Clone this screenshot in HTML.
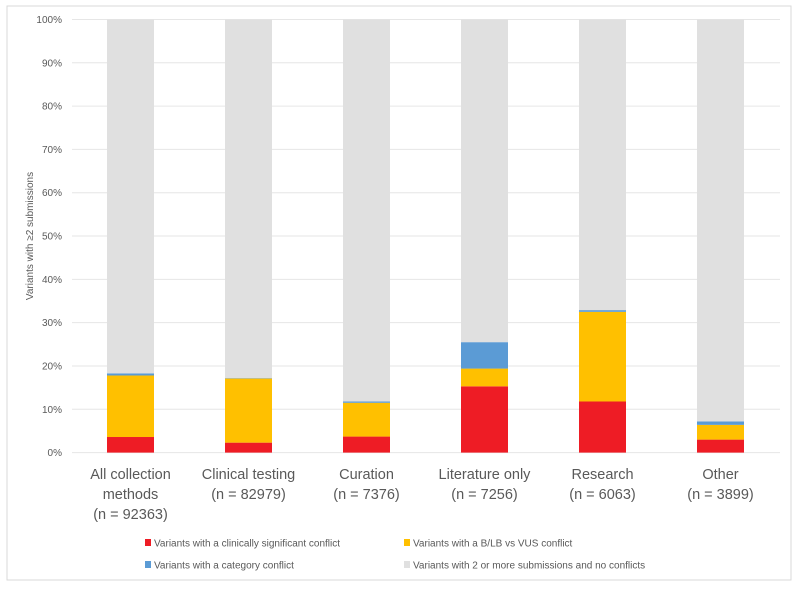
<!DOCTYPE html>
<html><head><meta charset="utf-8"><style>
body{margin:0;background:#fff;font-family:"Liberation Sans",sans-serif;}
svg text{font-family:"Liberation Sans",sans-serif;}
</style></head><body>
<svg width="800" height="585">
<rect x="7" y="6" width="784" height="574" fill="#fff" stroke="#d9d9d9"/>
<g id="grid"></g><g id="bars"></g><g id="labels"></g>
<text transform="translate(33,236) rotate(-90)" text-anchor="middle" font-size="10" fill="#595959">Variants with ≥2 submissions</text>
<g id="legend"></g>
</svg>
<script>
const categories=[["All collection","methods","(n = 92363)"],["Clinical testing","(n = 82979)"],["Curation","(n = 7376)"],["Literature only","(n = 7256)"],["Research","(n = 6063)"],["Other","(n = 3899)"]];
const clinSig=[3.6,2.3,3.7,15.3,11.8,3.0];
const blvus=[14.2,14.8,7.8,4.1,20.7,3.4];
const catConf=[0.5,0.1,0.3,6.1,0.4,0.8];
const yTicks=[0,10,20,30,40,50,60,70,80,90,100];
const seriesNames=["Variants with a clinically significant conflict","Variants with a B/LB vs VUS conflict","Variants with a category conflict","Variants with 2 or more submissions and no conflicts"];
const colors=["#ee1c25","#ffc000","#5b9bd5","#e0e0e0"];
const NS="http://www.w3.org/2000/svg";
const y0=452.6,y100=19.5,xL=72,xR=780;
const y=v=>y0-(y0-y100)*v/100;
const band=118;
const xc=i=>130.5+band*i;
function mk(t,a,p){const e=document.createElementNS(NS,t);for(const k in a)e.setAttribute(k,a[k]);p.appendChild(e);return e;}
const grid=document.getElementById('grid');
yTicks.forEach(t=>{
 const l=mk('line',{x1:xL,x2:xR,y1:y(t),y2:y(t),stroke:'#e6e6e6','stroke-width':1},grid);
 
 
 const tx=mk('text',{x:62,y:y(t)+3.5,'text-anchor':'end','font-size':10,fill:'#595959'},grid);
 tx.textContent=t+'%';
 
 
});
const bars=document.getElementById('bars'),labels=document.getElementById('labels');
categories.forEach((c,i)=>{
 const vals=[clinSig[i],blvus[i],catConf[i]];
 vals.push(100-vals[0]-vals[1]-vals[2]);
 let acc=0;
 vals.forEach((v,s)=>{
  const r=mk('rect',{x:xc(i)-23.5,width:47,y:y(acc+v),height:y(acc)-y(acc+v),fill:colors[s]},bars);
  
  
  acc+=v;
 });
 c.forEach((ln,j)=>{
  const t=mk('text',{x:xc(i),y:479+j*20,'text-anchor':'middle','font-size':14.5,fill:'#595959'},labels);
  t.textContent=ln;
  
  
 });
});
const lg=document.getElementById('legend');
const lpos=[[145,543],[404,543],[145,565],[404,565]];
seriesNames.forEach((n,s)=>{
 const g=mk('g',{},lg);
 
 
 mk('rect',{x:lpos[s][0],y:lpos[s][1]-4,width:6,height:7,fill:colors[s]},g);
 const t=mk('text',{x:lpos[s][0]+9,y:lpos[s][1]+3.5,'font-size':10,fill:'#595959'},g);
 t.textContent=n;
});
</script>
</body></html>
